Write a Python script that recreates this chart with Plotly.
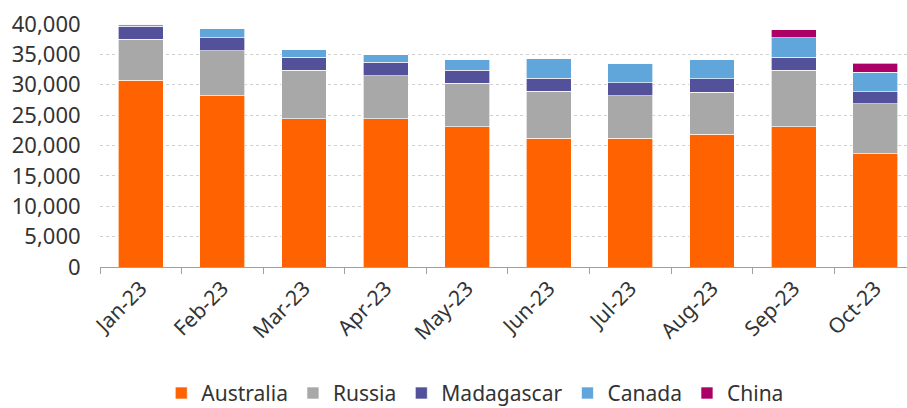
import plotly.graph_objects as go

months = ["Jan-23", "Feb-23", "Mar-23", "Apr-23", "May-23", "Jun-23", "Jul-23", "Aug-23", "Sep-23", "Oct-23"]
australia = [30750, 28200, 24400, 24400, 23100, 21200, 21200, 21850, 23100, 18650]
russia = [6750, 7400, 8000, 7100, 7150, 7750, 6950, 6950, 9300, 8250]
madagascar = [2100, 2150, 2150, 2200, 2150, 2150, 2150, 2150, 2150, 1930]
canada = [400, 1500, 1250, 1280, 1700, 3200, 3200, 3150, 3150, 3200]
china = [0, 0, 0, 0, 0, 0, 0, 0, 1320, 1480]

series = [
    ("Australia", australia, "#FF6200"),
    ("Russia", russia, "#A8A8A8"),
    ("Madagascar", madagascar, "#525199"),
    ("Canada", canada, "#60A6DA"),
    ("China", china, "#AB0066"),
]

y_ticks = [0, 5000, 10000, 15000, 20000, 25000, 30000, 35000, 40000]
y_tick_labels = ["0", "5,000", "10,000", "15,000", "20,000", "25,000", "30,000", "35,000", "40,000"]

fig = go.Figure()
for name, vals, color in series:
    fig.add_trace(go.Bar(
        x=months, y=vals, name=name,
        marker=dict(color=color, line=dict(color="rgba(255,255,255,0.8)", width=0.8)),
    ))

font_family = "Noto Sans"
fig.update_layout(
    barmode="stack",
    bargap=0.45,
    width=907, height=408,
    margin=dict(l=100, r=0, t=24, b=141, autoexpand=False),
    paper_bgcolor="white", plot_bgcolor="white",
    font=dict(family=font_family, size=21, color="#333333"),
    showlegend=True,
    legend=dict(orientation="h", x=0.465, xanchor="center", y=-0.52, yanchor="middle",
                font=dict(size=21, color="#333333"), itemwidth=30, tracegroupgap=0,
                traceorder="normal"),
    xaxis=dict(
        type="category", range=[-0.5, 9.39], automargin=False,
        showgrid=False, showline=True, linecolor="#a0a0a0", linewidth=1,
        ticks="outside", tickson="boundaries", ticklen=6, tickcolor="#a0a0a0",
        tickangle=-45, tickfont=dict(size=21),
    ),
    yaxis=dict(
        range=[0, 40000], tickvals=y_ticks, ticktext=y_tick_labels, automargin=False,
        showgrid=True, gridcolor="#d0d0d0", griddash="dot", gridwidth=1,
        showline=False, zeroline=False,
        ticks="outside", ticklen=14, tickcolor="rgba(0,0,0,0)",
        tickfont=dict(size=22),
    ),
)

fig.write_html("out.html", config={"displayModeBar": False},
               post_script="document.body.style.margin='0';document.body.style.overflow='hidden';")
